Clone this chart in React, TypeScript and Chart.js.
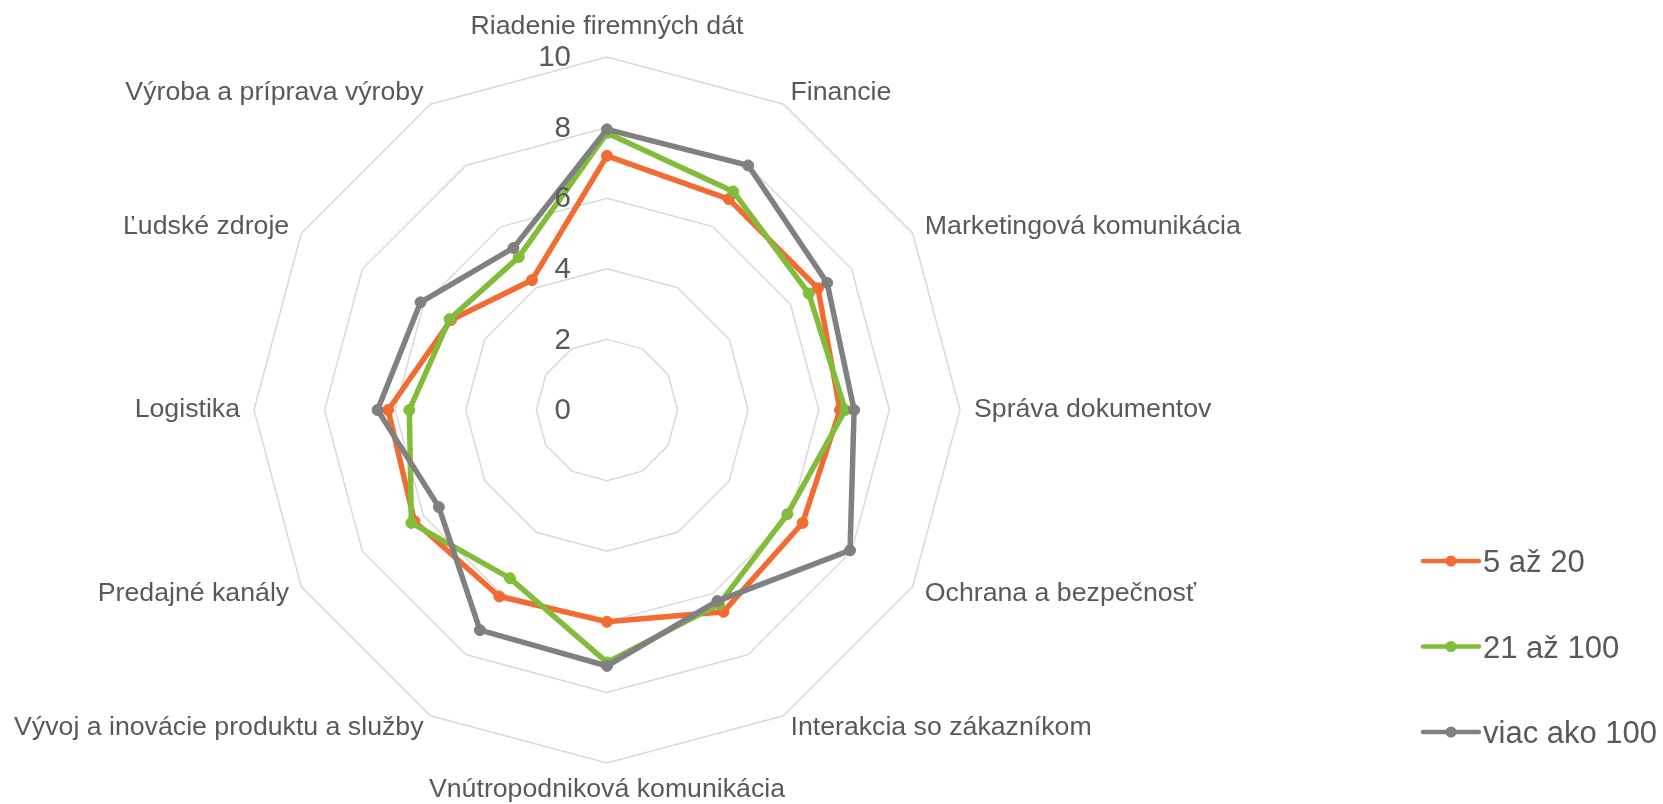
import React, { useEffect, useRef } from 'react';
import { Chart, registerables } from 'chart.js';

Chart.register(...registerables);

const categories = [
  'Riadenie firemných dát',
  'Financie',
  'Marketingová komunikácia',
  'Správa dokumentov',
  'Ochrana a bezpečnosť',
  'Interakcia so zákazníkom',
  'Vnútropodniková komunikácia',
  'Vývoj a inovácie produktu a služby',
  'Predajné kanály',
  'Logistika',
  'Ľudské zdroje',
  'Výroba a príprava výroby',
];

const seriesNames = ['5 až 20', '21 až 100', 'viac ako 100'];
const series5to20 = [7.2, 6.9, 6.9, 6.6, 6.4, 6.6, 6.0, 6.1, 6.3, 6.2, 5.1, 4.25];
const series21to100 = [7.85, 7.15, 6.6, 6.75, 5.9, 6.35, 7.15, 5.5, 6.4, 5.6, 5.15, 5.0];
const seriesOver100 = [7.95, 8.0, 7.2, 7.0, 7.95, 6.25, 7.25, 7.2, 5.5, 6.5, 6.1, 5.3];
const seriesColors = ['#F26B32', '#82BC3B', '#808080'];
const axisMin = 0;
const axisMax = 10;
const axisStep = 2;

const FONT = '"Liberation Sans", Arial, sans-serif';
const TEXT = '#595959';

const excelPlugin = {
  id: 'excelText',
  afterDraw(chart: any) {
    const scale = chart.scales.r;
    const ctx = chart.ctx;
    ctx.save();
    // tick labels
    ctx.font = `29.5px ${FONT}`;
    ctx.fillStyle = TEXT;
    ctx.textAlign = 'right';
    ctx.textBaseline = 'middle';
    scale.ticks.forEach((t: any) => {
      const d = scale.getDistanceFromCenterForValue(t.value);
      ctx.fillText(String(t.value), scale.xCenter - 36, scale.yCenter - d + 1);
    });
    // point labels
    ctx.font = `26.7px ${FONT}`;
    (chart.data.labels as string[]).forEach((lab, i) => {
      const angle = scale.getIndexAngle(i);
      const pos = scale.getPointPosition(i, scale.drawingArea + 14);
      const s = Math.sin(angle);
      const c = Math.cos(angle);
      let y = pos.y;
      if (Math.abs(s) < 1e-3) {
        ctx.textAlign = 'center';
        y += c > 0 ? -16 : 13;
      } else {
        ctx.textAlign = s > 0 ? 'left' : 'right';
      }
      ctx.fillText(lab, pos.x, y);
    });
    // legend
    const lx0 = 1423;
    const lx1 = 1479;
    const ly0 = 561;
    const lstep = 85.5;
    ctx.font = `31px ${FONT}`;
    ctx.textAlign = 'left';
    chart.data.datasets.forEach((ds: any, i: number) => {
      const y = ly0 + i * lstep;
      ctx.strokeStyle = ds.borderColor;
      ctx.lineWidth = 4.5;
      ctx.lineCap = 'round';
      ctx.beginPath();
      ctx.moveTo(lx0, y);
      ctx.lineTo(lx1, y);
      ctx.stroke();
      ctx.fillStyle = ds.borderColor;
      ctx.beginPath();
      ctx.arc((lx0 + lx1) / 2, y, 5.5, 0, Math.PI * 2);
      ctx.fill();
      ctx.fillStyle = TEXT;
      ctx.textBaseline = 'alphabetic';
      ctx.fillText(ds.label, lx1 + 4, y + 11);
    });
    ctx.restore();
  },
};

export default function App() {
  const ref = useRef<HTMLCanvasElement>(null);
  useEffect(() => {
    if (!ref.current) return;
    const values = [series5to20, series21to100, seriesOver100];
    const chart = new Chart(ref.current, {
      type: 'radar',
      data: {
        labels: categories,
        datasets: values.map((v, i) => ({
          label: seriesNames[i],
          data: v,
          borderColor: seriesColors[i],
          backgroundColor: seriesColors[i],
          pointBackgroundColor: seriesColors[i],
          pointBorderColor: seriesColors[i],
          pointRadius: 5.5,
          pointBorderWidth: 1,
          borderWidth: 5.5,
          fill: false,
          order: 3 - i,
        })),
      },
      options: {
        responsive: false,
        animation: false,
        layout: { padding: { top: 57, bottom: 41, left: 254, right: 703 } },
        plugins: { legend: { display: false }, tooltip: { enabled: false } },
        scales: {
          r: {
            min: axisMin,
            max: axisMax,
            ticks: { stepSize: axisStep, display: false },
            grid: { color: '#D9D9D9', lineWidth: 1.5, circular: false },
            angleLines: { display: false },
            pointLabels: { display: false },
          },
        },
      },
      plugins: [excelPlugin],
    });
    return () => chart.destroy();
  }, []);
  return (
    <div style={{ position: 'absolute', left: 0, top: 0, width: 1663, height: 804, background: '#fff' }}>
      <canvas ref={ref} width={1663} height={804} />
    </div>
  );
}
